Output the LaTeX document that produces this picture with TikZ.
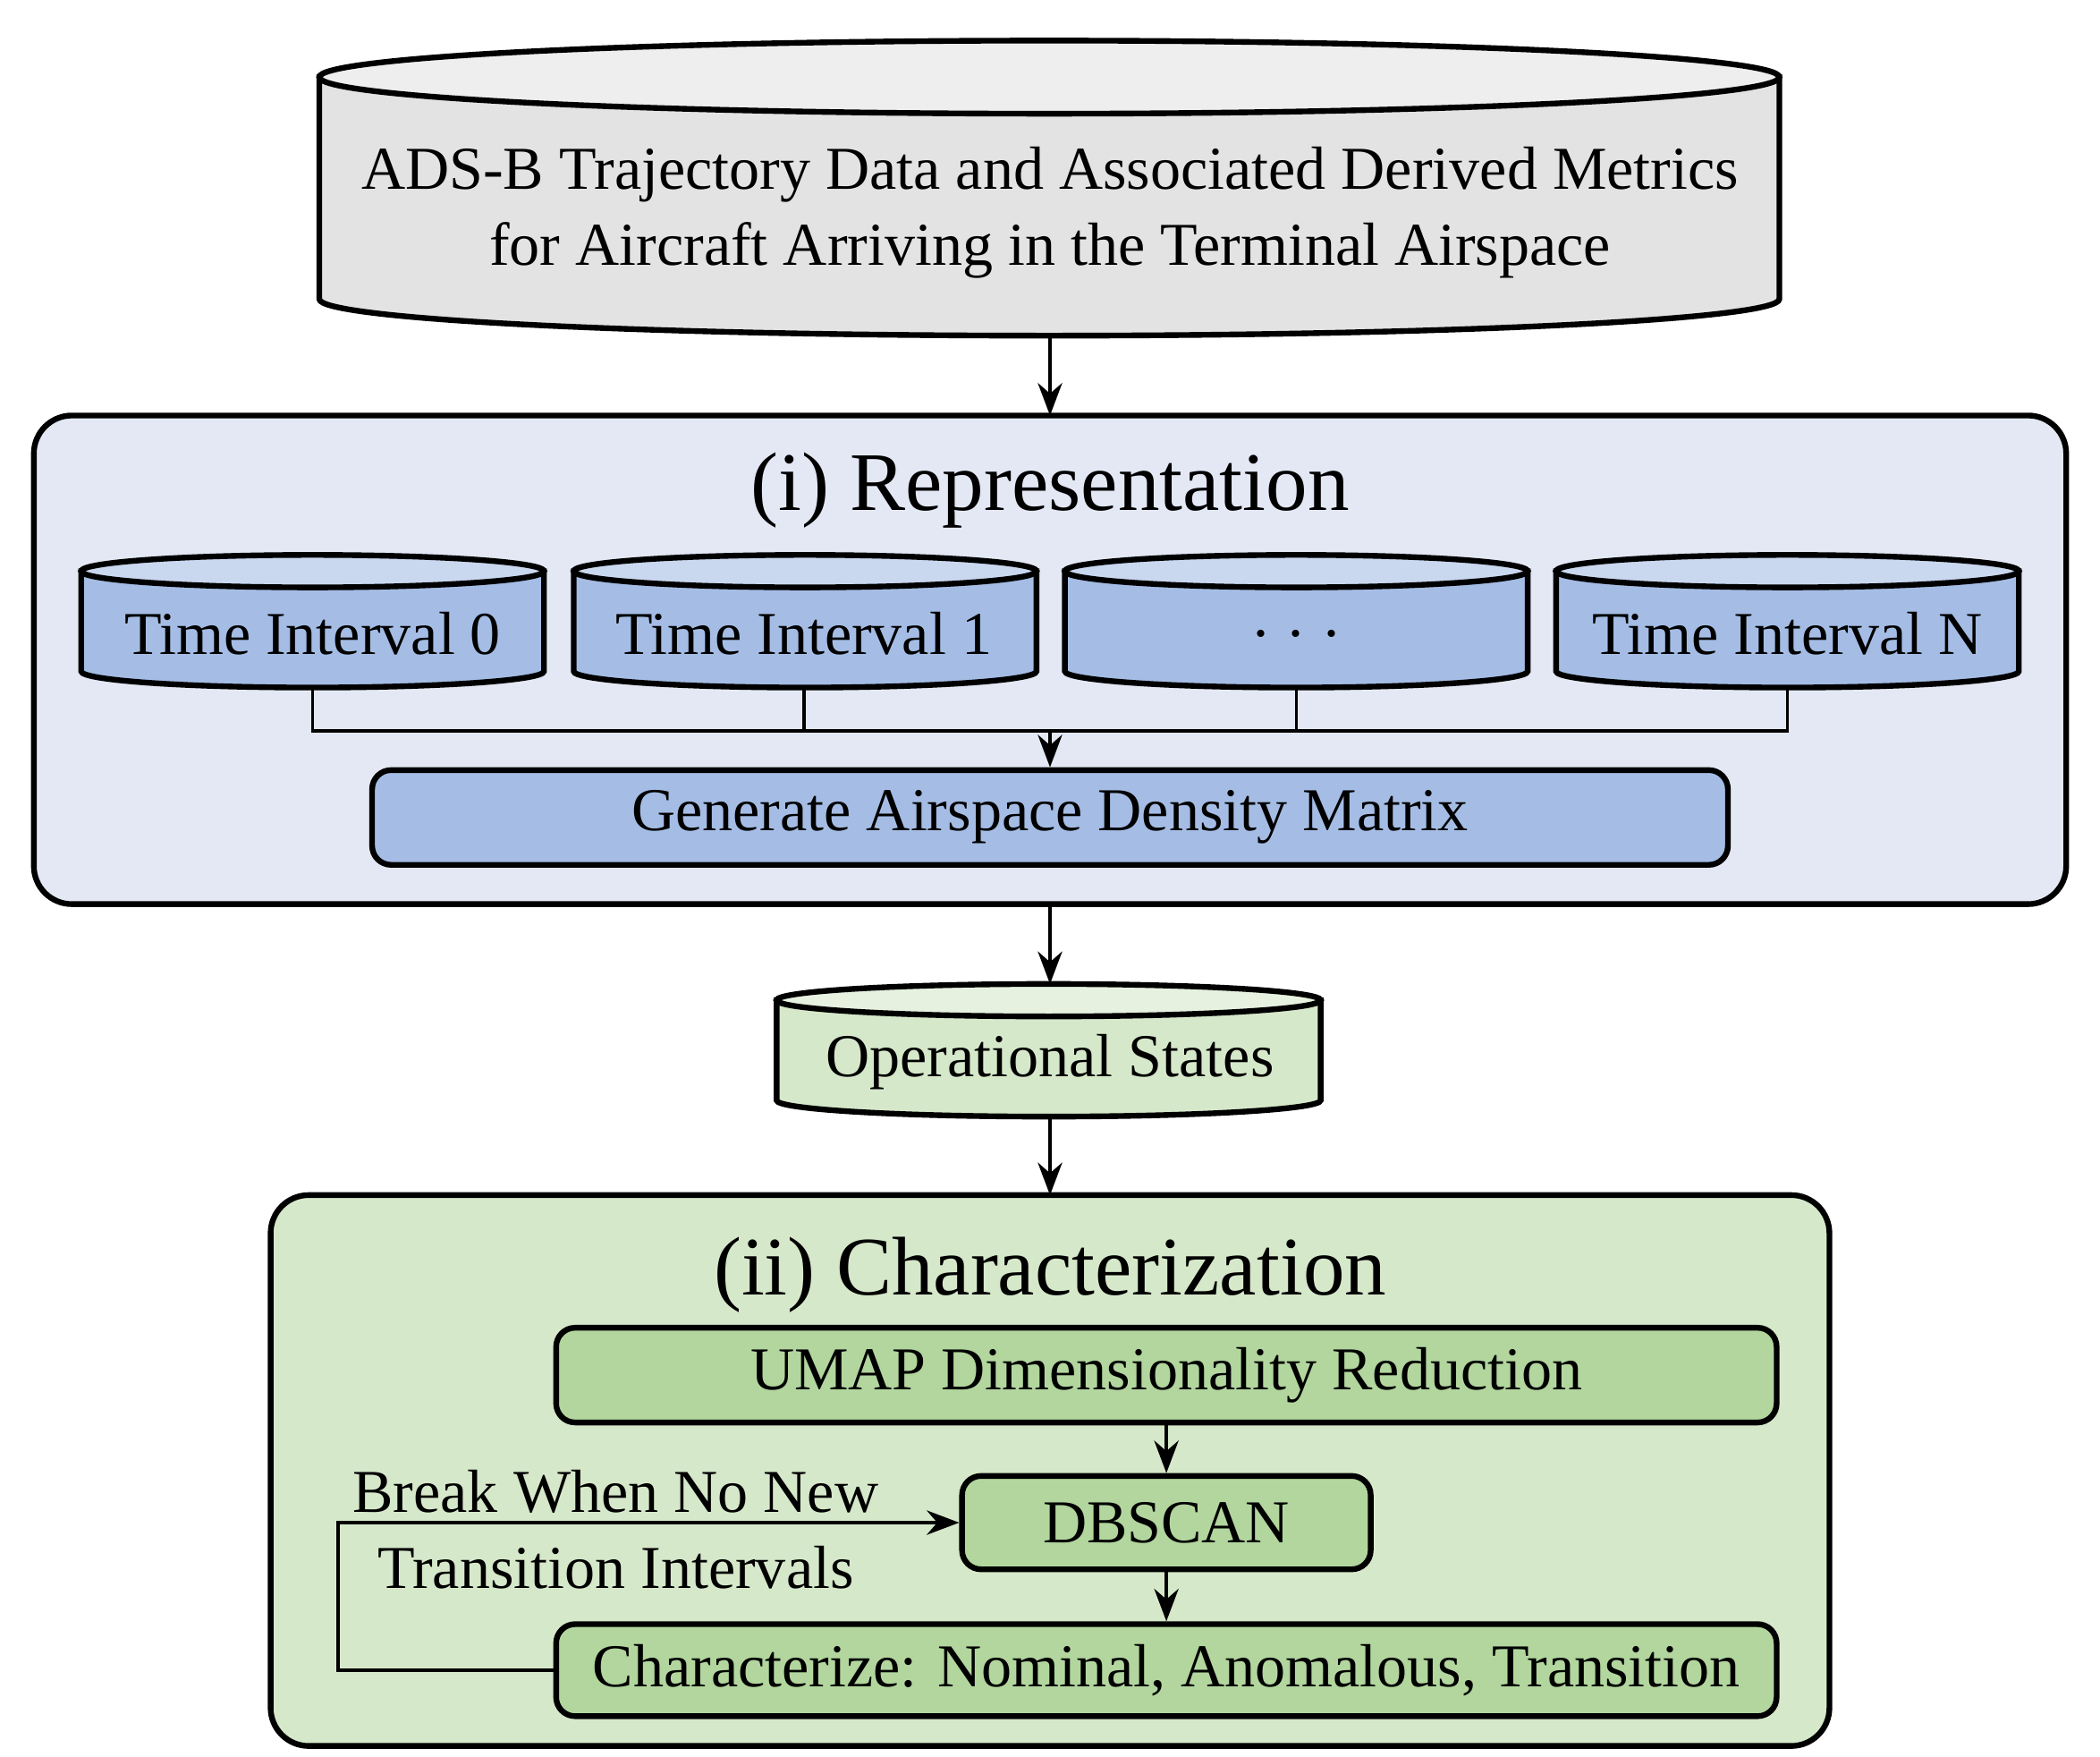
\documentclass[tikz,border=0pt]{standalone}
\usepackage{fontspec}
\setmainfont{Liberation Serif}
\usetikzlibrary{arrows.meta}
\definecolor{drumgray}{HTML}{E3E3E3}
\definecolor{repback}{HTML}{E3E8F4}
\definecolor{repblue}{HTML}{A5BDE5}
\definecolor{charback}{HTML}{D6E8CA}
\definecolor{chargreen}{HTML}{B2D69E}
% drum: left, right, top centre y, bottom centre y, radius y, fill
\newcommand{\drum}[6]{%
  \pgfmathsetmacro{\drumrx}{(#2-#1)/2}
  \pgfmathsetmacro{\drumxc}{(#1+#2)/2}
  \draw[box, fill=#6] (#1,#3) -- (#1,#4) arc[start angle=180, end angle=0, x radius=\drumrx, y radius=#5] -- (#2,#3) -- cycle;
  \draw[box, fill=#6!60!white] (\drumxc,#3) ellipse[x radius=\drumrx, y radius=#5];
}
\begin{document}
\begin{tikzpicture}[x=0.1mm, y=-0.1mm, font=\fontsize{12.8}{16}\selectfont,
  box/.style={line width=1.2pt},
  panel/.style={box, rounded corners=8pt},
  stage/.style={box, draw, rounded corners=4pt, minimum height=7mm, inner sep=0pt},
  link/.style={line width=0.7pt},
  arrow/.style={link, -{Stealth[length=2.4mm, width=1.8mm]}},
  title/.style={font=\fontsize{17.5}{21}\selectfont}]
  \useasboundingbox (0,0) rectangle (1552,1298);

  % Source data
  \drum{236}{1315}{57}{221}{27}{drumgray}
  \node[align=center] (data) at (776,157) {ADS-B Trajectory Data and Associated Derived Metrics\\for Aircraft Arriving in the Terminal Airspace};
  \coordinate (datab) at (776,248);

  % (i) Representation
  \draw[panel, fill=repback] (25,307) rectangle (1527,668);
  \coordinate (rept) at (776,307);
  \coordinate (repb) at (776,668);
  \node[title] (rep) at (776,362) {(i) Representation};
  \drum{60}{402}{422}{496}{12}{repblue}
  \drum{424}{766}{422}{496}{12}{repblue}
  \drum{787}{1129}{422}{496}{12}{repblue}
  \drum{1150}{1492}{422}{496}{12}{repblue}
  \node (t0) at (231,468) {Time Interval 0};
  \node (t1) at (594,468) {Time Interval 1};
  \node (tx) at (958,468) {. . .};
  \node (tn) at (1321,468) {Time Interval N};
  \coordinate (t0b) at (231,508);
  \coordinate (t1b) at (594,508);
  \coordinate (txb) at (958,508);
  \coordinate (tnb) at (1321,508);
  \coordinate (join) at (776,540);
  \node[stage, fill=repblue, minimum width=100.2mm] (gen) at (776,604) {Generate Airspace Density Matrix};
  \draw[link] (t0b) |- (tnb |- join) -- (tnb);
  \draw[link] (t1b) -- (t1b |- join);
  \draw[link] (txb) -- (txb |- join);
  \draw[arrow] (join) -- (gen.north);

  % Operational states
  \drum{574}{976}{739}{813}{12}{charback}
  \node (ops) at (776,785) {Operational States};
  \coordinate (opst) at (776,727);
  \coordinate (opsb) at (776,825);

  % (ii) Characterization
  \draw[panel, fill=charback] (200,883) rectangle (1352,1290);
  \coordinate (chart) at (776,883);
  \node[title] (char) at (776,942) {(ii) Characterization};
  \node[stage, fill=chargreen, minimum width=90.2mm] (umap) at (862,1016) {UMAP Dimensionality Reduction};
  \node[stage, fill=chargreen, minimum width=30.2mm, minimum height=6.9mm] (dbscan) at (862,1125) {DBSCAN};
  \node[stage, fill=chargreen, minimum width=90.2mm, minimum height=6.8mm] (charz) at (862,1234) {Characterize: Nominal, Anomalous, Transition};
  \node[align=center] (brk) at (455,1130) {Break When No New\\Transition Intervals};
  \coordinate (loop) at (250,1234);

  \draw[arrow] (datab) -- (rept);
  \draw[arrow] (repb) -- (opst);
  \draw[arrow] (opsb) -- (chart);
  \draw[arrow] (umap) -- (dbscan);
  \draw[arrow] (dbscan) -- (charz);
  \draw[arrow] (charz.west) -- (loop) |- (dbscan.west);
\end{tikzpicture}
\end{document}
